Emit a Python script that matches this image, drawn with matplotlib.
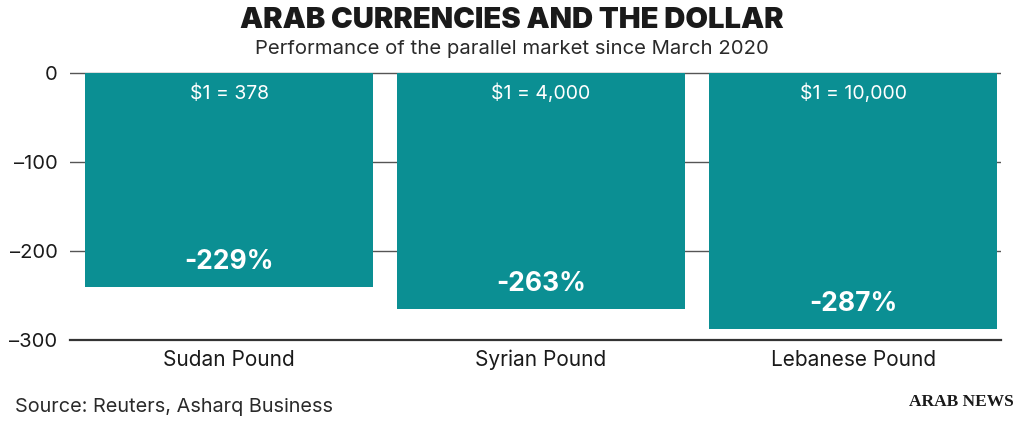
import matplotlib
matplotlib.use("Agg")
import matplotlib.pyplot as plt

categories = ["Sudan Pound", "Syrian Pound", "Lebanese Pound"]
values = [-240, -265, -288]
pct_labels = ["-229%", "-263%", "-287%"]
rate_labels = ["$1 = 378", "$1 = 4,000", "$1 = 10,000"]
yticks = [0, -100, -200, -300]
ytick_labels = ["0", "\u2013100", "\u2013200", "\u2013300"]

TEAL = "#0b8f93"
FONT = ["Inter", "DejaVu Sans"]
plt.rcParams["font.family"] = FONT

fig = plt.figure(figsize=(10.24, 4.25), dpi=100)
ax = fig.add_axes([70/1024, 1-340/425, (1001-70)/1024, (340-72)/425])

x = list(range(len(categories)))
ax.bar(x, values, width=0.923, color=TEAL, zorder=2)

for xi, v, p, r in zip(x, values, pct_labels, rate_labels):
    ax.text(xi, -23.5, r, ha="center", va="center", color="white", fontsize=14, zorder=3)
    ax.text(xi, v + 28, p, ha="center", va="center", color="white", fontsize=19,
            fontweight="bold", zorder=3)

ax.set_xlim(-0.51, 2.474)
ax.set_ylim(-300, 0.6)
ax.set_yticks(yticks)
ax.set_yticklabels(ytick_labels, fontsize=14.5, color="#1a1a1a")
ax.set_xticks(x)
ax.set_xticklabels(categories, fontsize=15, color="#1a1a1a")
ax.tick_params(axis="y", length=0, pad=9)
ax.tick_params(axis="x", length=0, pad=7)

for t in yticks[:-1]:
    ax.axhline(t, color="#555555", lw=1.0, zorder=1)
for s in ["top", "right", "left"]:
    ax.spines[s].set_visible(False)
ax.spines["bottom"].set_color("#333333")
ax.spines["bottom"].set_linewidth(1.6)

fig.text(0.5, 1-20/425, "ARAB CURRENCIES AND THE DOLLAR", ha="center", va="center",
         fontsize=21, fontweight="black", color="#1a1a1a")
fig.text(0.5, 1-49/425, "Performance of the parallel market since March 2020", ha="center",
         va="center", fontsize=14.6, color="#2a2a2a")
fig.text(15/1024, 1-407/425, "Source: Reuters, Asharq Business", ha="left", va="center",
         fontsize=14.3, color="#2a2a2a")
fig.text(1014/1024, 1-402/425, "ARAB NEWS", ha="right", va="center", fontsize=12.5,
         fontweight="bold", family=["Liberation Serif", "DejaVu Serif"], color="#1a1a1a")

fig.savefig("out.png", dpi=100)
